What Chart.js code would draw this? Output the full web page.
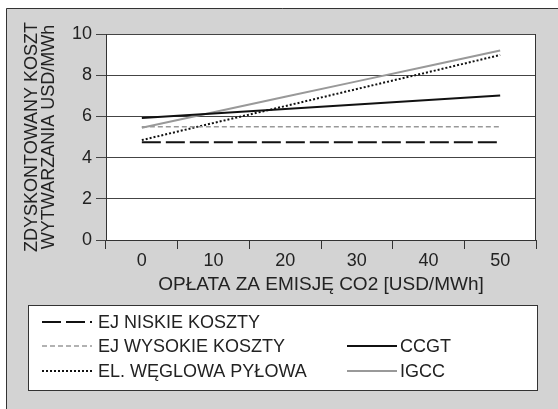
<!DOCTYPE html>
<html>
<head>
<meta charset="utf-8">
<script src="https://cdn.jsdelivr.net/npm/chart.js@4"></script>
<style>
  html, body { margin: 0; padding: 0; background: #fff; }
  #wrap { width: 558px; height: 409px; }
</style>
</head>
<body>
<div id="wrap"><canvas id="costChart" width="558" height="409"></canvas></div>
<script>
// values
const xLabels = ['0', '10', '20', '30', '40', '50'];
const ejNiskie = [4.75, 4.75, 4.75, 4.75, 4.75, 4.75];
const ejWysokie = [5.5, 5.5, 5.5, 5.5, 5.5, 5.5];
const elWeglowa = [4.85, 5.68, 6.5, 7.33, 8.15, 8.98];
const ccgt = [5.92, 6.14, 6.36, 6.58, 6.8, 7.02];
const igcc = [5.45, 6.2, 6.95, 7.7, 8.45, 9.2];

const seriesNames = ['EJ NISKIE KOSZTY', 'EJ WYSOKIE KOSZTY', 'EL. WĘGLOWA PYŁOWA', 'CCGT', 'IGCC'];

const FONT = 'Liberation Sans, Arial, sans-serif';
const TEXT = '#222';

// gray frame, white plot area, legend box
const framePlugin = {
    id: 'frame',
    beforeDraw(chart) {
        const ctx = chart.ctx;
        const a = chart.chartArea;
        ctx.save();
        ctx.fillStyle = '#d3d3d3';
        ctx.fillRect(6, 8, chart.width - 6, chart.height - 8);
        ctx.strokeStyle = '#333';
        ctx.lineWidth = 1;
        ctx.beginPath();
        ctx.moveTo(6.5, chart.height);
        ctx.lineTo(6.5, 8.5);
        ctx.lineTo(chart.width, 8.5);
        ctx.stroke();
        ctx.fillStyle = '#fff';
        ctx.fillRect(a.left, a.top, a.right - a.left, a.bottom - a.top);
        ctx.restore();
    },
    afterDatasetsDraw(chart) {
        const ctx = chart.ctx;
        const a = chart.chartArea;
        ctx.save();
        ctx.strokeStyle = '#333';
        ctx.lineWidth = 1;
        ctx.beginPath();
        ctx.moveTo(Math.round(a.right) - 0.5, a.top);
        ctx.lineTo(Math.round(a.right) - 0.5, a.bottom);
        ctx.stroke();
        ctx.restore();
    },
    afterDraw(chart) {
        const ctx = chart.ctx;
        ctx.save();
        ctx.fillStyle = '#fff';
        ctx.fillRect(28, 305, 509, 85);
        ctx.strokeStyle = '#333';
        ctx.lineWidth = 1;
        ctx.strokeRect(28.5, 305.5, 509, 85);

        // slot for each dataset: [sampleX, textX, rowY]
        const slots = [[42, 98, 322], [42, 98, 346], [42, 98, 371], [347, 400, 346], [347, 400, 371]];
        ctx.font = '18px ' + FONT;
        ctx.textBaseline = 'middle';
        chart.data.datasets.forEach((ds, i) => {
            const [sx, tx, y] = slots[i];
            ctx.strokeStyle = ds.borderColor;
            ctx.lineWidth = ds.borderWidth;
            ctx.setLineDash(ds.borderDash || []);
            ctx.beginPath();
            ctx.moveTo(sx, y);
            ctx.lineTo(sx + 50, y);
            ctx.stroke();
            ctx.setLineDash([]);
            ctx.fillStyle = TEXT;
            ctx.fillText(ds.label, tx, y + 1);
        });
        ctx.restore();
    }
};

function line(label, data, color, width, dash) {
    return {
        label: label,
        data: data,
        borderColor: color,
        borderWidth: width,
        borderDash: dash,
        pointRadius: 0,
        fill: false,
        tension: 0
    };
}

const ctx = document.getElementById('costChart').getContext('2d');
const costChart = new Chart(ctx, {
    type: 'line',
    data: {
        labels: xLabels,
        datasets: [
            line(seriesNames[0], ejNiskie, '#111', 2, [19, 5]),
            line(seriesNames[1], ejWysokie, '#999', 1.5, [5, 3]),
            line(seriesNames[2], elWeglowa, '#111', 2, [2, 2]),
            line(seriesNames[3], ccgt, '#111', 2, []),
            line(seriesNames[4], igcc, '#999', 2, [])
        ]
    },
    plugins: [framePlugin],
    options: {
        responsive: false,
        animation: false,
        layout: { padding: { left: 23, right: 22, top: 34, bottom: 109 } },
        plugins: {
            legend: { display: false },
            tooltip: { enabled: false }
        },
        scales: {
            x: {
                offset: true,
                afterFit(scale) { scale.height = 60; },
                grid: {
                    offset: true,
                    drawOnChartArea: false,
                    drawTicks: true,
                    tickLength: 9,
                    color: '#333'
                },
                border: { color: '#333', width: 1 },
                ticks: { color: TEXT, font: { family: FONT, size: 18 }, padding: 1, maxRotation: 0 },
                title: {
                    display: true,
                    text: 'OPŁATA ZA EMISJĘ CO2 [USD/MWh]',
                    color: TEXT,
                    font: { family: FONT, size: 19, lineHeight: 1.1 },
                    padding: { top: 0, bottom: 5 }
                }
            },
            y: {
                min: 0,
                max: 10,
                afterFit(scale) { scale.width = 83; },
                grid: { color: '#444', tickLength: 10, lineWidth: 1 },
                border: { color: '#333', width: 1 },
                ticks: { stepSize: 2, color: TEXT, font: { family: FONT, size: 18 }, padding: 4 },
                title: {
                    display: true,
                    text: ['ZDYSKONTOWANY KOSZT', 'WYTWARZANIA USD/MWh'],
                    color: TEXT,
                    font: { family: FONT, size: 18, lineHeight: 0.97 },
                    padding: { top: 0, bottom: 0 }
                }
            }
        }
    }
});
</script>
</body>
</html>
